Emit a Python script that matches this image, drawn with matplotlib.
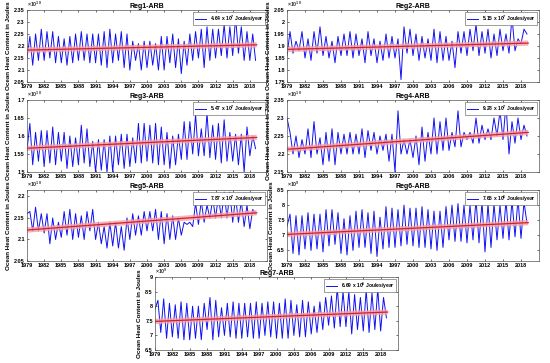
import numpy as np
import matplotlib.pyplot as plt
from matplotlib.ticker import FuncFormatter

plt.rcParams['font.family'] = ['Liberation Sans', 'DejaVu Sans']
plt.rcParams['font.weight'] = 'bold'
plt.rcParams['mathtext.default'] = 'regular'

# troughs sit at the start of each year (1979..2019), peaks in mid-year (1979..2018)
trough_years = np.arange(1979, 2020)
peak_years = np.arange(1979, 2019) + 0.5

# Reg1 (x 10^10 J)
reg1_peaks = [2.24, 2.25, 2.27, 2.26, 2.26, 2.24, 2.23, 2.24, 2.25, 2.26, 2.25, 2.25, 2.25, 2.26,
              2.27, 2.25, 2.26, 2.25, 2.22, 2.21, 2.22, 2.22, 2.21, 2.24, 2.24, 2.25, 2.23, 2.22,
              2.25, 2.26, 2.27, 2.28, 2.27, 2.27, 2.29, 2.28, 2.32, 2.28, 2.26, 2.25]
reg1_troughs = [2.15, 2.12, 2.14, 2.14, 2.15, 2.13, 2.13, 2.12, 2.13, 2.14, 2.14, 2.13, 2.13, 2.12,
                2.11, 2.13, 2.14, 2.11, 2.10, 2.14, 2.10, 2.11, 2.12, 2.10, 2.10, 2.13, 2.11, 2.085,
                2.12, 2.14, 2.15, 2.11, 2.14, 2.15, 2.16, 2.15, 2.16, 2.17, 2.14, 2.14, 2.14]
reg1_trend = [2.183, 2.205]

# Reg2 (x 10^10 J)
reg2_peaks = [1.96, 1.92, 1.96, 1.93, 1.96, 1.98, 1.94, 1.92, 1.94, 1.95, 1.96, 1.95, 1.93, 1.96,
              1.93, 1.92, 1.95, 1.94, 1.93, 1.98, 1.97, 1.95, 1.94, 1.93, 1.97, 1.96, 1.94, 1.92,
              1.96, 1.96, 1.97, 1.99, 1.96, 1.97, 1.95, 1.97, 1.95, 2.02, 1.93, 1.97]
reg2_troughs = [1.86, 1.87, 1.88, 1.85, 1.84, 1.87, 1.86, 1.85, 1.83, 1.86, 1.86, 1.85, 1.86, 1.83,
                1.86, 1.83, 1.84, 1.85, 1.85, 1.76, 1.87, 1.86, 1.84, 1.85, 1.84, 1.83, 1.84, 1.84,
                1.81, 1.87, 1.86, 1.88, 1.86, 1.87, 1.85, 1.86, 1.88, 1.87, 1.88, 1.91, 1.95]
reg2_trend = [1.886, 1.912]

# Reg3 (x 10^10 J)
reg3_peaks = [1.635, 1.61, 1.615, 1.615, 1.625, 1.61, 1.61, 1.60, 1.595, 1.63, 1.62, 1.585, 1.59,
              1.59, 1.60, 1.60, 1.605, 1.605, 1.595, 1.635, 1.635, 1.63, 1.635, 1.625, 1.61, 1.60,
              1.605, 1.64, 1.64, 1.66, 1.62, 1.665, 1.63, 1.635, 1.645, 1.61, 1.605, 1.605, 1.625, 1.60]
reg3_troughs = [1.56, 1.52, 1.53, 1.515, 1.525, 1.52, 1.53, 1.51, 1.515, 1.52, 1.525, 1.515, 1.50,
                1.505, 1.50, 1.50, 1.52, 1.51, 1.515, 1.525, 1.525, 1.53, 1.525, 1.52, 1.52, 1.51,
                1.52, 1.535, 1.535, 1.55, 1.545, 1.545, 1.54, 1.535, 1.525, 1.53, 1.53, 1.52, 1.50,
                1.545, 1.565]
reg3_trend = [1.566, 1.596]

# Reg4 (x 10^10 J)
reg4_peaks = [2.26, 2.25, 2.24, 2.27, 2.29, 2.245, 2.26, 2.27, 2.26, 2.255, 2.26, 2.255, 2.27, 2.265,
              2.26, 2.25, 2.255, 2.255, 2.32, 2.24, 2.24, 2.25, 2.275, 2.26, 2.30, 2.29, 2.30, 2.26,
              2.32, 2.26, 2.26, 2.30, 2.28, 2.27, 2.30, 2.32, 2.34, 2.29, 2.30, 2.28]
reg4_troughs = [2.30, 2.20, 2.19, 2.20, 2.19, 2.20, 2.17, 2.18, 2.17, 2.20, 2.20, 2.20, 2.20, 2.19,
                2.21, 2.20, 2.21, 2.18, 2.15, 2.20, 2.20, 2.19, 2.17, 2.18, 2.20, 2.20, 2.21, 2.21,
                2.22, 2.22, 2.24, 2.23, 2.23, 2.24, 2.24, 2.25, 2.24, 2.20, 2.23, 2.24, 2.25]
reg4_trend = [2.213, 2.26]

# Reg5 (x 10^10 J)
reg5_peaks = [2.165, 2.175, 2.16, 2.16, 2.15, 2.14, 2.165, 2.17, 2.16, 2.155, 2.165, 2.17, 2.14, 2.13,
              2.14, 2.14, 2.13, 2.15, 2.16, 2.155, 2.165, 2.165, 2.17, 2.165, 2.16, 2.155, 2.15, 2.14,
              2.14, 2.185, 2.19, 2.18, 2.195, 2.20, 2.21, 2.21, 2.20, 2.19, 2.18, 2.17]
reg5_troughs = [2.16, 2.12, 2.12, 2.115, 2.09, 2.10, 2.105, 2.11, 2.10, 2.105, 2.10, 2.12, 2.10, 2.09,
                2.08, 2.085, 2.08, 2.075, 2.10, 2.11, 2.11, 2.12, 2.12, 2.10, 2.09, 2.10, 2.10, 2.11,
                2.135, 2.13, 2.135, 2.14, 2.15, 2.15, 2.15, 2.15, 2.14, 2.14, 2.13, 2.125, 2.16]
reg5_trend = [2.122, 2.162]

# Reg6 (x 10^9 J)
reg6_peaks = [7.7, 7.65, 7.65, 7.75, 7.7, 7.7, 7.85, 7.85, 7.75, 7.55, 7.65, 7.8, 7.85, 7.75, 7.8,
              7.6, 7.95, 7.9, 7.85, 8.0, 7.9, 7.9, 7.95, 7.85, 7.8, 7.8, 7.95, 8.0, 8.05, 8.0, 8.0,
              8.2, 8.1, 8.05, 8.05, 8.0, 8.15, 8.15, 8.2, 8.1]
reg6_troughs = [7.3, 6.4, 6.35, 6.55, 6.5, 6.55, 6.45, 6.65, 6.7, 6.4, 6.35, 6.5, 6.6, 6.6, 6.4, 6.3,
                6.55, 6.6, 6.6, 6.65, 6.7, 6.65, 6.6, 6.6, 6.55, 6.5, 6.6, 6.85, 6.8, 6.8, 6.75, 6.85,
                6.75, 6.45, 6.6, 6.85, 6.9, 6.85, 6.95, 6.9, 7.4]
reg6_trend = [7.03, 7.42]

# Reg7 (x 10^9 J)
reg7_peaks = [8.2, 8.25, 8.1, 8.05, 8.15, 8.1, 8.0, 8.0, 8.1, 8.3, 8.2, 7.95, 8.1, 8.15, 8.1, 8.1,
              8.1, 8.15, 8.1, 8.15, 8.15, 8.1, 8.25, 8.2, 8.05, 8.2, 8.15, 8.0, 8.15, 8.3, 8.35, 8.65,
              8.5, 8.5, 8.4, 8.3, 8.55, 8.45, 8.6, 8.3]
reg7_troughs = [7.9, 7.1, 6.9, 6.95, 6.9, 6.85, 6.85, 6.9, 6.85, 7.2, 6.85, 6.95, 7.0, 6.95, 6.9,
                6.9, 6.95, 6.9, 6.9, 7.0, 6.95, 6.9, 6.9, 6.9, 7.0, 6.95, 6.95, 7.05, 7.1, 7.2, 7.35,
                7.25, 7.3, 7.3, 7.05, 7.2, 7.15, 7.1, 7.2, 7.15, 7.6]
reg7_trend = [7.48, 7.8]

titles = ['Reg1-ARB', 'Reg2-ARB', 'Reg3-ARB', 'Reg4-ARB', 'Reg5-ARB', 'Reg6-ARB', 'Reg7-ARB']
rates = ['4.64', '5.15', '5.47', '9.28', '7.87', '7.65', '6.69']
rate_exp = [7, 7, 7, 7, 7, 6, 6]
scale_exp = [10, 10, 10, 10, 10, 9, 9]
ylims = [(2.05, 2.35), (1.75, 2.05), (1.5, 1.7), (2.15, 2.35), (2.05, 2.215), (6.15, 8.5), (6.5, 9.0)]
yticks = [np.arange(2.05, 2.36, 0.05), np.arange(1.75, 2.06, 0.05), np.arange(1.5, 1.71, 0.05),
          np.arange(2.15, 2.36, 0.05), np.arange(2.05, 2.21, 0.05), np.arange(6.5, 8.6, 0.5),
          np.arange(6.5, 9.1, 0.5)]
peaks = [reg1_peaks, reg2_peaks, reg3_peaks, reg4_peaks, reg5_peaks, reg6_peaks, reg7_peaks]
troughs = [reg1_troughs, reg2_troughs, reg3_troughs, reg4_troughs, reg5_troughs, reg6_troughs, reg7_troughs]
trends = [reg1_trend, reg2_trend, reg3_trend, reg4_trend, reg5_trend, reg6_trend, reg7_trend]
xtick_years = np.arange(1979, 2019, 3)

# axes boxes in pixels: left, top, right, bottom
W, H = 550, 363
boxes = [(27, 10, 267, 82), (287, 10, 539, 82),
         (27, 100, 267, 172), (287, 100, 539, 172),
         (27, 190, 267, 261), (287, 190, 539, 261),
         (155, 277, 398, 350)]

fig = plt.figure(figsize=(5.5, 3.63), dpi=100)

for i in range(7):
    l, t, r, b = boxes[i]
    ax = fig.add_axes([l / W, 1 - b / H, (r - l) / W, (b - t) / H])
    x = np.empty(81)
    y = np.empty(81)
    x[0::2] = trough_years
    x[1::2] = peak_years
    y[0::2] = troughs[i]
    y[1::2] = peaks[i]
    ax.plot(x, y, color='#1010f0', lw=0.7,
            label=r'%s x 10$^{%d}$ Joules/year' % (rates[i], rate_exp[i]))
    ax.plot([1979, 2019.2], trends[i], color='#f4a0a8', lw=3.8, alpha=0.8, solid_capstyle='butt')
    ax.plot([1979, 2019.2], trends[i], color='#d0202a', lw=0.9)

    ax.set_xlim(1979, 2021)
    ax.set_ylim(*ylims[i])
    ax.set_xticks(xtick_years)
    ax.set_yticks(yticks[i])
    ax.yaxis.set_major_formatter(FuncFormatter(lambda v, p: '%g' % round(v, 3)))
    ax.tick_params(labelsize=4, width=0.4, length=1.5, direction='in',
                   top=True, right=True, pad=1.5)
    for lab in ax.get_xticklabels() + ax.get_yticklabels():
        lab.set_fontweight('bold')
    for s in ax.spines.values():
        s.set_linewidth(0.5)
        s.set_color('#555555')

    ax.set_title(titles[i], fontsize=5, fontweight='bold', pad=1.5)
    ax.set_ylabel('Ocean Heat Content in Joules', fontsize=4.5, fontweight='bold', labelpad=2)
    ax.text(0, 1.01, r'$\times 10^{%d}$' % scale_exp[i], transform=ax.transAxes,
            fontsize=3.8, ha='left', va='bottom', color='#333333')
    leg = ax.legend(loc='upper right', fontsize=3.6, handlelength=2.2, borderpad=0.3,
                    borderaxespad=0.4, framealpha=1, edgecolor='#555555', fancybox=False)
    leg.get_frame().set_linewidth(0.4)
    for txt in leg.get_texts():
        txt.set_fontweight('bold')

fig.savefig('out.png', dpi=100)
